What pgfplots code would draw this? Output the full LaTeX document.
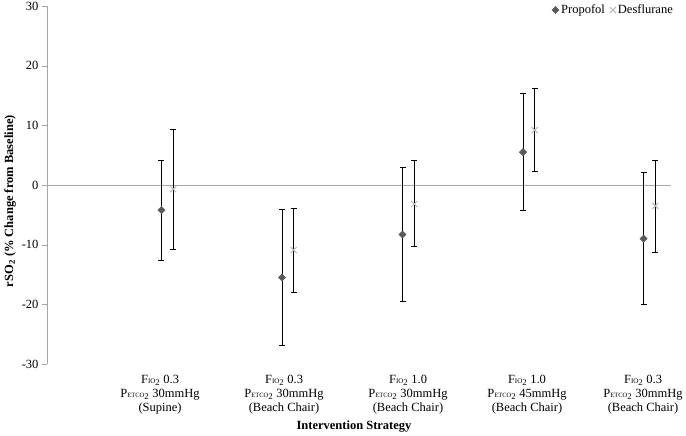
\documentclass[border=0pt]{standalone}
\usepackage{pgfplots}
\pgfplotsset{compat=1.18}
\usepackage{fontspec}
\setmainfont{Liberation Serif}
\definecolor{propc}{HTML}{595959}
\definecolor{desc}{HTML}{B8B8B8}
\definecolor{axc}{HTML}{A6A6A6}
\newcommand{\FIO}{F{\fontsize{7}{7}\selectfont IO}\textsubscript{2}}
\newcommand{\PET}{P{\fontsize{6.5}{7}\selectfont ETCO}\textsubscript{2}}
\pgfplotstableread{
x y ep em
0.95 -4.2 8.4 8.5
1.95 -15.5 11.4 11.4
2.95 -8.3 11.3 11.2
3.95 5.5 9.8 9.8
4.95 -9.0 11.1 11.0
}\prop
\pgfplotstableread{
x y ep em
1.047 -0.7 10.1 10.1
2.047 -10.9 7.0 7.1
3.047 -3.2 7.4 7.1
4.047 9.2 7.0 7.0
5.047 -3.5 7.6 7.8
}\desf
\begin{document}
\begin{tikzpicture}
\useasboundingbox (-47pt,-72pt) rectangle (639pt,364pt);
\begin{axis}[
  scale only axis, width=624pt, height=358pt,
  xmin=0, xmax=5.178, ymin=-30, ymax=30,
  axis y line*=left, axis x line*=bottom,
  x axis line style={draw=none},
  y axis line style={-, draw=axc},
  ytick={-30,-20,-10,0,10,20,30},
  yticklabels={-30,-20,-10,0,10,20,30},
  ytick style={draw=axc}, tick align=outside, major tick length=5pt,
  yticklabel style={font=\fontsize{12.5}{14}\selectfont},
  xtick={0.938,1.967,2.996,3.983,4.946},
  xtick style={draw=none},
  xticklabels={{\FIO{} 0.3\\\PET{} 30mmHg\\(Supine)},
               {\FIO{} 0.3\\\PET{} 30mmHg\\(Beach Chair)},
               {\FIO{} 1.0\\\PET{} 30mmHg\\(Beach Chair)},
               {\FIO{} 1.0\\\PET{} 45mmHg\\(Beach Chair)},
               {\FIO{} 0.3\\\PET{} 30mmHg\\(Beach Chair)}},
  xticklabel style={align=center, font=\fontsize{12.5}{14}\selectfont, yshift=-3pt},
  extra y ticks={0}, extra y tick labels={},
  extra y tick style={grid=major, major grid style={draw=axc, line width=0.8pt}, tick style={draw=none}},
  xlabel={\textbf{Intervention Strategy}},
  xlabel style={at={(axis description cs:0.492,0)}, anchor=center, yshift=-63pt, font=\fontsize{12.5}{14}\selectfont},
  ylabel={\textbf{rSO\textsubscript{2} (\% Change from Baseline)}},
  ylabel style={at={(axis description cs:-0.0593,0.455)}, anchor=center, font=\fontsize{12.5}{14}\selectfont},
  legend style={at={(axis description cs:1,1)}, anchor=east, xshift=5pt, yshift=-4pt,
     draw=none, fill=none, font=\fontsize{12.5}{14}\selectfont, legend columns=-1,
     inner sep=1pt,
     /tikz/every even column/.append style={column sep=3pt}},
  legend image code/.code={\draw[#1] plot coordinates {(0pt,0pt)};},
  error bars/error bar style={black, line width=0.8pt},
  error bars/error mark options={rotate=90, mark size=3pt, black, line width=0.8pt},
]
% error bars first, so the marks sit on top
\addplot[draw=none, mark=none, forget plot, error bars/.cd, y dir=both, y explicit]
  table[x=x, y=y, y error plus=ep, y error minus=em] {\prop};
\addplot[draw=none, mark=none, forget plot, error bars/.cd, y dir=both, y explicit]
  table[x=x, y=y, y error plus=ep, y error minus=em] {\desf};
\addplot[only marks, mark=square*, mark size=2.6pt, mark options={rotate=45, fill=propc, draw=propc}]
  table[x=x, y=y] {\prop};
\addlegendentry{Propofol}
\addplot[only marks, mark=x, mark size=4.3pt, mark options={draw=desc, line width=1pt}]
  table[x=x, y=y] {\desf};
\addlegendentry{Desflurane}
\end{axis}
\end{tikzpicture}
\end{document}
